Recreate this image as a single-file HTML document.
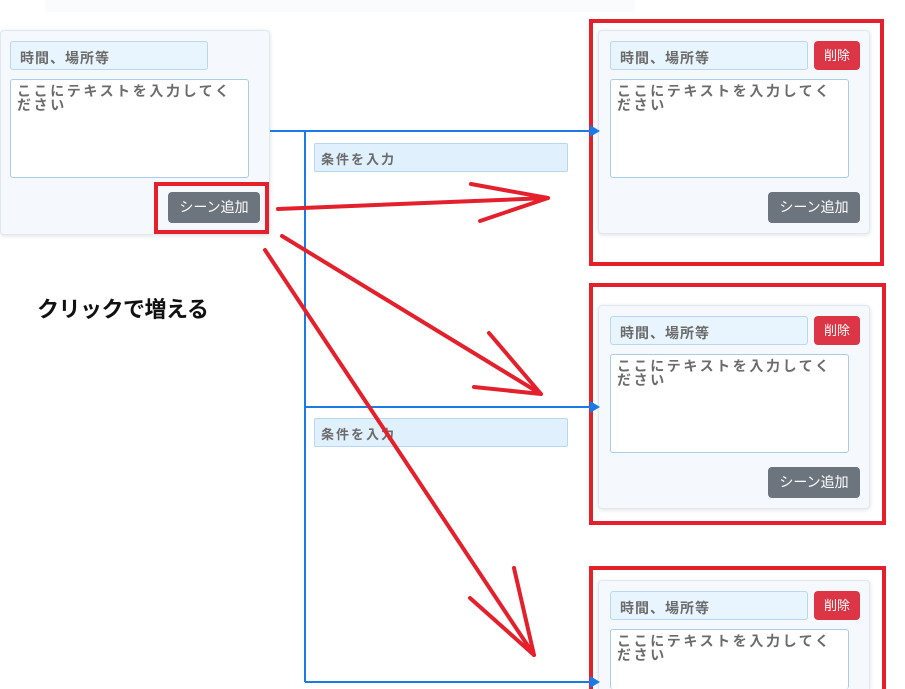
<!DOCTYPE html>
<html style="width:905px;height:689px;overflow:hidden"><head><meta charset="utf-8"><style>
body{margin:0;width:905px;height:689px;overflow:hidden;background:#fff;position:relative;font-family:"Liberation Sans","Noto Sans CJK JP",sans-serif}
.a{position:absolute;box-sizing:border-box}
.card{background:#f5f9fd;border:1px solid #dfe7ef;border-radius:4px;box-shadow:0 1px 4px rgba(0,0,0,.12)}
.inp{background:#e8f4fe;border:1px solid #b9d7ee;border-radius:3px;color:#6b6b6b;font-size:14px;font-weight:bold;padding:6px 9px;letter-spacing:1px}
.ta{background:#fff;border:1px solid #a9cde8;border-radius:3px;color:#6b6b6b;font-size:14px;font-weight:bold;padding:4px 7px 4px 6px;line-height:14px;letter-spacing:2.6px}
.btn{background:#6c757d;color:#fff;border-radius:4px;font-size:14px;text-align:center;line-height:31px}
.del{background:#dc3545;color:#fff;border-radius:4px;font-size:13px;text-align:center;line-height:29px}
.red{border:4px solid #e3202b}
.cond{background:#e0f0fd;border:1px solid #b9d7ee;border-radius:2px;color:#6b6b6b;font-size:13px;font-weight:bold;padding:5px 6px;letter-spacing:2px}
</style></head><body>
<div class="a" style="left:45px;top:0;width:590px;height:12px;background:#fafbfc"></div>

<div class="a card" style="left:0;top:30px;width:270px;height:205px"></div>
<div class="a inp" style="left:10px;top:41px;width:198px;height:29px">時間、場所等</div>
<div class="a ta" style="left:10px;top:79px;width:239px;height:99px">ここにテキストを入力してください</div>
<div class="a btn" style="left:168px;top:192px;width:92px;height:31px">シーン追加</div>
<div class="a red" style="left:154px;top:182px;width:115px;height:52px"></div>

<div class="a" style="left:37px;top:292px;font-size:22px;font-weight:bold;color:#111;letter-spacing:-0.5px">クリックで増える</div>

<div class="a cond" style="left:314px;top:143px;width:254px;height:29px">条件を入力</div>
<div class="a cond" style="left:314px;top:418px;width:254px;height:29px">条件を入力</div>

<div class="a card" style="left:598px;top:30px;width:272px;height:204px"></div>
<div class="a inp" style="left:610px;top:41px;width:198px;height:29px">時間、場所等</div>
<div class="a del" style="left:814px;top:41px;width:46px;height:29px">削除</div>
<div class="a ta" style="left:610px;top:79px;width:239px;height:99px">ここにテキストを入力してください</div>
<div class="a btn" style="left:768px;top:192px;width:92px;height:31px">シーン追加</div>
<div class="a red" style="left:589px;top:19px;width:295px;height:247px"></div>

<div class="a card" style="left:598px;top:305px;width:272px;height:204px"></div>
<div class="a inp" style="left:610px;top:316px;width:198px;height:29px">時間、場所等</div>
<div class="a del" style="left:814px;top:316px;width:46px;height:29px">削除</div>
<div class="a ta" style="left:610px;top:354px;width:239px;height:99px">ここにテキストを入力してください</div>
<div class="a btn" style="left:768px;top:467px;width:92px;height:31px">シーン追加</div>
<div class="a red" style="left:589px;top:283px;width:297px;height:242px"></div>

<div class="a card" style="left:598px;top:580px;width:272px;height:109px;border-bottom:none;border-radius:4px 4px 0 0"></div>
<div class="a inp" style="left:610px;top:591px;width:198px;height:29px">時間、場所等</div>
<div class="a del" style="left:814px;top:591px;width:46px;height:29px">削除</div>
<div class="a ta" style="left:610px;top:629px;width:239px;height:60px;border-bottom:none">ここにテキストを入力してください</div>
<div class="a red" style="left:589px;top:566px;width:297px;height:123px;border-bottom:none"></div>

<svg class="a" style="left:0;top:0" width="905" height="689">
<g stroke="#1a7ae6" stroke-width="2" fill="none">
<path d="M270 131H592M305 131V682M305 407H592M305 682H592"/>
</g>
<g fill="#1a7ae6">
<path d="M590 125L600 131L590 137Z"/><path d="M590 401L600 407L590 413Z"/><path d="M590 676L600 682L590 688Z"/>
</g>
<g stroke="#e3202b" stroke-width="4" stroke-linecap="round" fill="none">
<path d="M278 209L548 198M471 184L548 198M480 221L548 198"/>
<path d="M282 236L541 394M489 333L541 394M474 387L541 394"/>
<path d="M265 250L534 655M470 598L534 655M514 568L534 655"/>
</g>
</svg>
</body></html>
